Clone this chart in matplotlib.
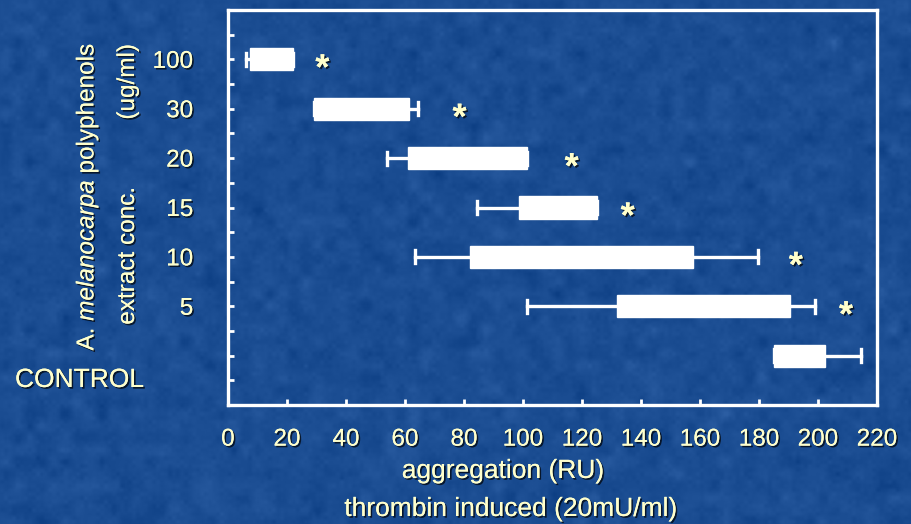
"""Thrombin-induced aggregation vs. A. melanocarpa extract concentration.

Horizontal box plots on a blue slide-style background.
"""

import numpy as np
import matplotlib
matplotlib.use("Agg")
import matplotlib.pyplot as plt
import matplotlib.patheffects as pe

# Rows, top to bottom (CONTROL has no tick label, it is written beside the axis)
conc_labels = ["100", "30", "20", "15", "10", "5", ""]
whisker_lo = [6.0, 29.0, 54.0, 84.5, 63.5, 101.5, 185.0]
box_lo = [7.5, 29.0, 61.0, 98.5, 82.0, 132.0, 185.0]
box_hi = [22.0, 61.5, 101.5, 125.0, 157.5, 190.5, 202.5]
whisker_hi = [22.0, 64.5, 101.5, 125.0, 179.5, 199.0, 214.5]
# significance markers (x position in RU), one per treated row
star_x = [32.0, 78.5, 116.5, 135.5, 192.5, 209.5]

x_ticks = list(range(0, 221, 20))

TEXT = "#ffffcc"
LINE = "white"
BG = (27 / 255, 77 / 255, 146 / 255)

plt.rcParams["font.family"] = ["Liberation Sans", "DejaVu Sans"]
plt.rcParams["mathtext.fontset"] = "custom"
plt.rcParams["mathtext.rm"] = "Liberation Sans"
plt.rcParams["mathtext.it"] = "Liberation Sans:italic"

shadow = [pe.withSimplePatchShadow(offset=(1.2, -1.2), shadow_rgbFace="black",
                                   alpha=0.7), pe.Normal()]


def smooth(a, n):
    k = np.ones(n) / n
    a = np.apply_along_axis(lambda r: np.convolve(r, k, mode="same"), 1, a)
    return np.apply_along_axis(lambda c: np.convolve(c, k, mode="same"), 0, a)


fig = plt.figure(figsize=(9.12, 5.24), dpi=100)
fig.patch.set_facecolor(BG)

# mottled backdrop: a coarse and a fine layer of smoothed noise
bg_ax = fig.add_axes([0, 0, 1, 1], zorder=-10)
rng = np.random.default_rng(11)
coarse = smooth(np.kron(rng.normal(0, 1, (45, 78)), np.ones((12, 12))), 9)
fine = smooth(np.kron(rng.normal(0, 1, (135, 230)), np.ones((4, 4))), 3)
tex = (coarse[:524, :912] / np.abs(coarse).max()
       + 0.5 * fine[:524, :912] / np.abs(fine).max())
img = np.empty(tex.shape + (3,))
for i, c in enumerate(BG):
    img[..., i] = np.clip(c + 0.06 * tex, 0, 1)
bg_ax.imshow(img, aspect="auto", interpolation="bilinear")
bg_ax.axis("off")

ax = fig.add_axes([228 / 912, 1 - 405 / 524, (877 - 228) / 912, (405 - 10) / 524])
ax.set_facecolor("none")

n = len(conc_labels)
positions = [n - 1 - i for i in range(n)]

stats = []
for lo, q1, q3, hi in zip(whisker_lo, box_lo, box_hi, whisker_hi):
    stats.append({"whislo": lo, "q1": q1, "med": q3, "q3": q3,
                  "whishi": hi, "fliers": []})

ax.bxp(stats, positions=positions, orientation="horizontal", widths=0.45,
       capwidths=0.26, patch_artist=True, showfliers=False,
       boxprops=dict(facecolor="white", edgecolor="white", linewidth=1),
       whiskerprops=dict(color=LINE, linewidth=2.4),
       capprops=dict(color=LINE, linewidth=2.4),
       medianprops=dict(color="white", linewidth=0))

for sx, pos in zip(star_x, positions[:-1]):
    ax.text(sx, pos - 0.4, "*", color=TEXT, fontsize=26, fontweight="bold",
            ha="center", va="baseline", path_effects=shadow)

ax.set_xlim(0, 220)
ax.set_ylim(-1, 7)
ax.set_xticks(x_ticks)
ax.set_yticks(positions)
ax.set_yticklabels(conc_labels)
ax.set_yticks([p + 0.5 for p in range(-1, 7)], minor=True)

for side in ax.spines.values():
    side.set_color(LINE)
    side.set_linewidth(2.4)

ax.tick_params(axis="both", which="both", direction="in", color=LINE,
               width=2, length=4)
ax.tick_params(axis="x", pad=17, labelsize=17.5, labelcolor=TEXT)
ax.tick_params(axis="y", pad=25, labelsize=17.5, labelcolor=TEXT)
for lab in ax.get_xticklabels() + ax.get_yticklabels():
    lab.set_path_effects(shadow)

label_kw = dict(color=TEXT, fontsize=19, path_effects=shadow)
side_kw = dict(color=TEXT, fontsize=17.5, path_effects=shadow, rotation=90,
               ha="center", va="center")
fig.text(503 / 912, 1 - 471 / 524, "aggregation (RU)", ha="center",
         va="center", **label_kw)
fig.text(511 / 912, 1 - 509 / 524, "thrombin induced (20mU/ml)", ha="center",
         va="center", **label_kw)
fig.text(15 / 912, 1 - 380 / 524, "CONTROL", ha="left", va="center",
         **label_kw)
fig.text(87 / 912, 1 - 197 / 524, r"A. $\mathit{melanocarpa}$ polyphenols",
         **side_kw)
fig.text(128 / 912, 1 - 256 / 524, "extract conc.", **side_kw)
fig.text(128 / 912, 1 - 82 / 524, "(ug/ml)", **side_kw)

fig.savefig("out.png", dpi=100, facecolor=fig.get_facecolor())
